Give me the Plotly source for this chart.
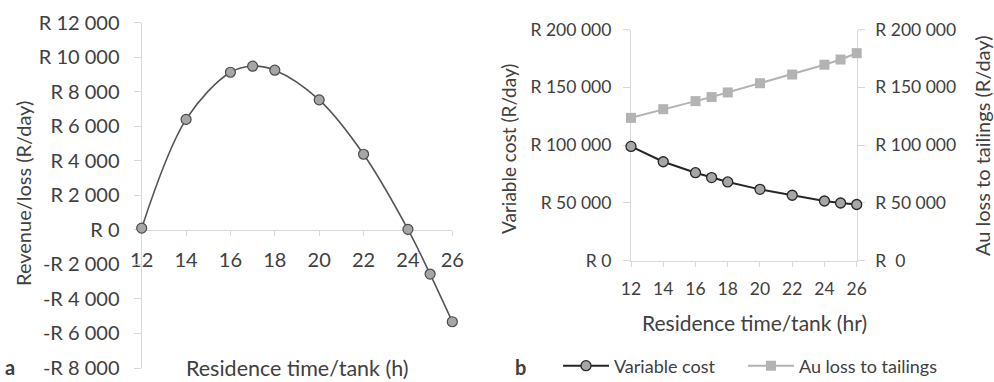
import plotly.graph_objects as go

# ---- data ----
time_a = [12, 14, 16, 17, 18, 20, 22, 24, 25, 26]
revenue = [100, 6400, 9130, 9480, 9250, 7530, 4380, 30, -2560, -5320]
yticks_a = [-8000, -6000, -4000, -2000, 0, 2000, 4000, 6000, 8000, 10000, 12000]
yticklabels_a = ["-R 8 000", "-R 6 000", "-R 4 000", "-R 2 000", "R 0", "R 2 000",
                 "R 4 000", "R 6 000", "R 8 000", "R 10 000", "R 12 000"]
xticks = [12, 14, 16, 18, 20, 22, 24, 26]

time_b = [12, 14, 16, 17, 18, 20, 22, 24, 25, 26]
variable_cost = [98800, 85500, 76000, 71800, 68000, 61600, 56500, 51500, 49800, 48500]
au_loss = [123500, 131000, 138000, 141500, 145500, 153500, 161000, 169500, 174000, 179500]
yticks_b = [0, 50000, 100000, 150000, 200000]
yticklabels_b = ["R 0", "R 50 000", "R 100 000", "R 150 000", "R 200 000"]
yticklabels_b2 = ["R\u00a0\u00a00", "R 50 000", "R 100 000", "R 150 000", "R 200 000"]

W, H = 994, 382
TXT = "#404040"
AX = "#d9d9d9"
FONT = "Lato"

def px(x):
    return x / W

def py(y):
    return 1 - y / H

fig = go.Figure()

fig.add_trace(go.Scatter(
    x=time_a, y=revenue, mode="lines+markers", xaxis="x", yaxis="y", cliponaxis=False,
    line=dict(color="#555555", width=1.6, shape="spline", smoothing=1.0),
    marker=dict(symbol="circle", size=10, color="#a6a6a6", line=dict(color="#4a4a4a", width=1.2)),
    showlegend=False))

fig.add_trace(go.Scatter(
    x=time_b, y=variable_cost, mode="lines+markers", name="Variable cost",
    xaxis="x2", yaxis="y2", legend="legend", cliponaxis=False,
    line=dict(color="#262626", width=2),
    marker=dict(symbol="circle", size=10, color="#a6a6a6", line=dict(color="#262626", width=1.3))))

fig.add_trace(go.Scatter(
    x=time_b, y=au_loss, mode="lines+markers", name="Au loss to tailings",
    xaxis="x2", yaxis="y3", legend="legend2", cliponaxis=False,
    line=dict(color="#b3b3b3", width=2),
    marker=dict(symbol="square", size=10, color="#b3b3b3", line=dict(color="#b3b3b3", width=0))))

common_ax = dict(showline=True, linecolor=AX, linewidth=1.3, ticks="outside", ticklen=7,
                 tickcolor=AX, tickwidth=1.3, showgrid=False, zeroline=False,
                 layer="below traces",
                 tickfont=dict(family=FONT, size=20, color=TXT))
fb = dict(family=FONT, size=17.5, color=TXT)
fl = dict(family=FONT, size=18, color=TXT)

fig.update_layout(
    width=W, height=H, autosize=False,
    margin=dict(l=0, r=0, t=0, b=0, autoexpand=False),
    paper_bgcolor="white", plot_bgcolor="rgba(0,0,0,0)",
    font=dict(family=FONT, color=TXT),
    xaxis=dict(common_ax, domain=[px(141.7), px(452.3)], range=[12, 26], tickvals=xticks,
               anchor="free", position=py(230), ticklen=5, ticklabelstandoff=7),
    yaxis=dict(common_ax, domain=[py(368), py(22.7)], range=[-8000, 12000],
               tickvals=yticks_a, ticktext=yticklabels_a, anchor="x", ticklabelstandoff=10),
    xaxis2=dict(common_ax, domain=[px(631), px(856.7)], range=[12, 26], tickvals=xticks,
                anchor="y2", tickfont=fb, ticklen=5, ticklabelstandoff=7),
    yaxis2=dict(common_ax, domain=[py(260.5), py(29.5)], range=[0, 200000],
                tickvals=yticks_b, ticktext=yticklabels_b, anchor="x2",
                tickfont=fb, ticklabelstandoff=8),
    yaxis3=dict(common_ax, overlaying="y2", side="right", range=[0, 200000],
                tickvals=yticks_b, ticktext=yticklabels_b2, anchor="x2",
                tickfont=fb, ticklabelstandoff=7),
    legend=dict(orientation="h", x=px(558), y=py(366), xanchor="left", yanchor="middle",
                font=fl, bgcolor="rgba(0,0,0,0)", itemwidth=46),
    legend2=dict(orientation="h", x=px(743), y=py(366), xanchor="left", yanchor="middle",
                 font=fl, bgcolor="rgba(0,0,0,0)", itemwidth=46),
)

ann = [
    dict(text="Residence time/tank (h)", x=px(297), y=py(368), size=21.5, angle=0, ya="middle"),
    dict(text="Revenue/loss (R/day)", x=px(23), y=py(194), size=20, angle=-90, ya="middle"),
    dict(text="Residence time/tank (hr)", x=px(754), y=py(322), size=21, angle=0, ya="middle"),
    dict(text="Variable cost (R/day)", x=px(509), y=py(149), size=19, angle=-90, ya="middle"),
    dict(text="Au loss to tailings (R/day)", x=px(982), y=py(146), size=20, angle=-90, ya="middle"),
    dict(text="<b>a</b>", x=px(10), y=py(381), size=20, angle=0, ya="bottom"),
    dict(text="<b>b</b>", x=px(520), y=py(381), size=20, angle=0, ya="bottom"),
]
for a in ann:
    fig.add_annotation(text=a["text"], x=a["x"], y=a["y"], xref="paper", yref="paper",
                       xanchor="center", yanchor=a["ya"], showarrow=False,
                       textangle=a["angle"], font=dict(family=FONT, size=a["size"], color=TXT))

fig.write_html("out.html")
